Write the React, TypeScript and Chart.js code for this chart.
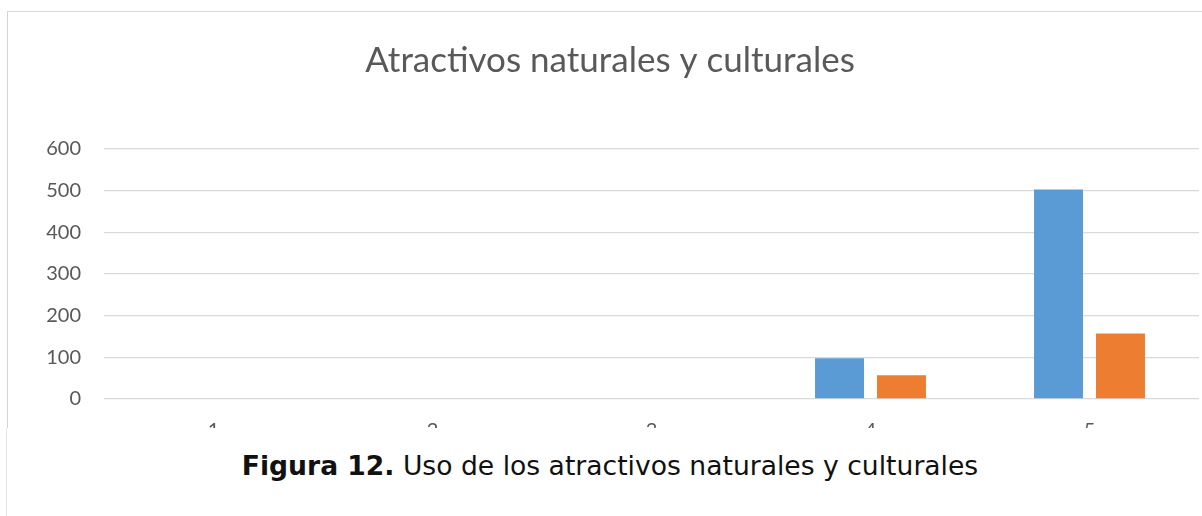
import React, { useEffect, useRef } from "react";
import { Chart, registerables } from "chart.js";

Chart.register(...registerables);

const categories = ["1", "2", "3", "4", "5"];
const serie1 = [0, 0, 2, 98, 503];
const serie2 = [0, 0, 0, 57, 157];
const yTicks = [0, 100, 200, 300, 400, 500, 600];
const chartTitle = "Atractivos naturales y culturales";
const captionBold = "Figura 12.";
const captionText = " Uso de los atractivos naturales y culturales";

export default function App() {
  const ref = useRef<HTMLCanvasElement | null>(null);

  useEffect(() => {
    if (!ref.current) return;
    const chart = new Chart(ref.current, {
      type: "bar",
      data: {
        labels: categories,
        datasets: [
          {
            label: "Serie1",
            data: serie1,
            backgroundColor: "#5B9BD5",
            borderWidth: 0,
            categoryPercentage: 0.566,
            barPercentage: 0.79,
          },
          {
            label: "Serie2",
            data: serie2,
            backgroundColor: "#ED7D31",
            borderWidth: 0,
            categoryPercentage: 0.566,
            barPercentage: 0.79,
          },
        ],
      },
      options: {
        animation: false,
        responsive: false,
        maintainAspectRatio: false,
        layout: { padding: { left: 13, right: 13, top: 0, bottom: 0 } },
        plugins: {
          legend: { display: false },
          tooltip: { enabled: false },
          title: {
            display: true,
            text: chartTitle,
            color: "#595959",
            font: { family: "Lato", size: 35, weight: "normal", lineHeight: 1.2 },
            padding: { top: 28, bottom: 67 },
          },
        },
        scales: {
          x: {
            grid: { display: false, drawTicks: false },
            border: { display: false },
            ticks: {
              color: "#595959",
              font: { family: "Lato", size: 20 },
              padding: 20,
              maxRotation: 0,
              autoSkip: false,
            },
            afterFit: (s: any) => {
              s.height = 81;
            },
          },
          y: {
            min: yTicks[0],
            max: yTicks[yTicks.length - 1],
            border: { display: false },
            grid: { color: "#d9d9d9", lineWidth: 1.3, drawTicks: false },
            ticks: {
              stepSize: 100,
              color: "#595959",
              font: { family: "Lato", size: 20 },
              padding: 23,
            },
            afterFit: (s: any) => {
              s.width = 83;
            },
          },
        },
      },
    });
    return () => chart.destroy();
  }, []);

  return (
    <div
      style={{
        position: "fixed",
        left: 0,
        top: 0,
        width: 1202,
        height: 516,
        overflow: "hidden",
        background: "#fff",
      }}
    >
      <canvas
        ref={ref}
        width={1204}
        height={468}
        style={{
          position: "absolute",
          left: 8,
          top: 12,
          display: "block",
          width: 1204,
          height: 468,
        }}
      />
      <div
        style={{
          position: "absolute",
          left: 7,
          top: 11,
          width: 1300,
          height: 1,
          background: "#d9d9d9",
        }}
      />
      <div
        style={{
          position: "absolute",
          left: 7,
          top: 11,
          width: 1,
          height: 417,
          background: "#d4d4d4",
        }}
      />
      <div
        style={{
          position: "absolute",
          left: 0,
          top: 428,
          width: 1202,
          height: 88,
          background: "#fff",
        }}
      />
      <div
        style={{
          position: "absolute",
          left: 6,
          top: 428,
          width: 1,
          height: 88,
          background: "#e6e6e6",
        }}
      />
      <div
        style={{
          position: "absolute",
          left: 0,
          width: 1220,
          top: 446,
          textAlign: "center",
          fontFamily: "'DejaVu Sans'",
          fontSize: 26.6,
          color: "#111",
          whiteSpace: "nowrap",
          lineHeight: "40px",
        }}
      >
        <b>{captionBold}</b>
        <span>{captionText}</span>
      </div>
    </div>
  );
}
